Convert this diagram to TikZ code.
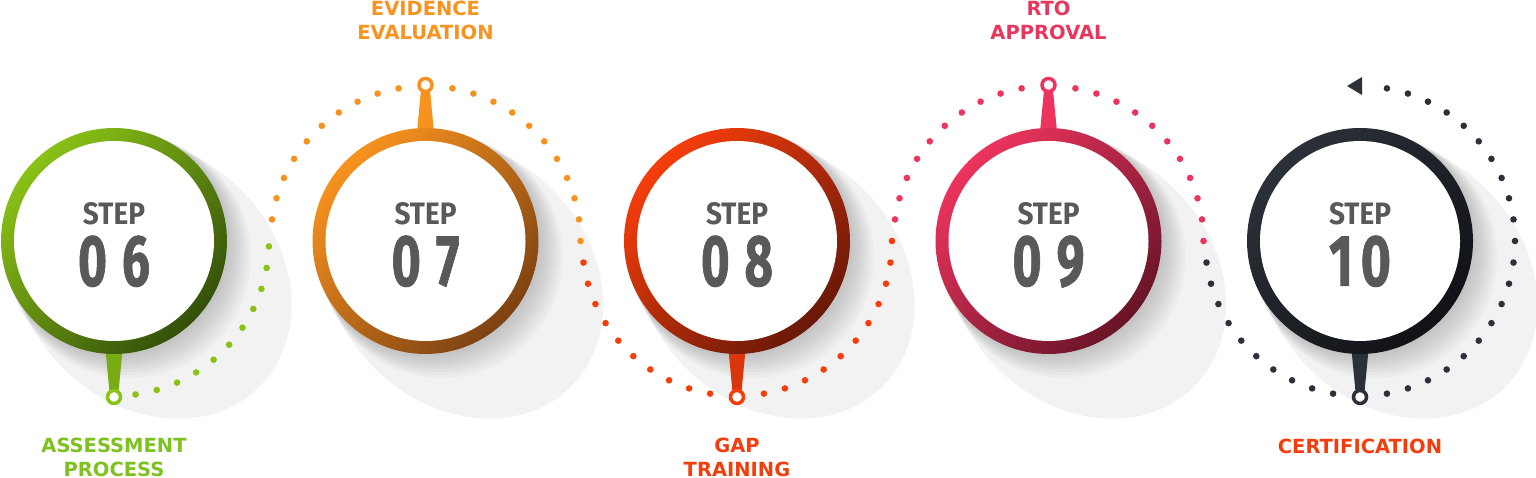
\documentclass[tikz,border=0pt]{standalone}
\usepackage{fontspec}
\usepackage{graphicx}
\setmainfont{DejaVu Sans}
\newfontfamily\stepfont{Fira Sans}
\newfontfamily\numfont[FakeBold=1.2]{Fira Sans}
\usetikzlibrary{positioning}

% ring and label colours
\definecolor{greenlt}{RGB}{138,194,22}
\definecolor{greendk}{RGB}{52,80,10}
\definecolor{greenlbl}{RGB}{125,194,30}
\definecolor{orangelt}{RGB}{248,146,30}
\definecolor{orangedk}{RGB}{125,66,18}
\definecolor{orangelbl}{RGB}{247,147,30}
\definecolor{redlt}{RGB}{246,62,12}
\definecolor{reddk}{RGB}{105,24,8}
\definecolor{redlbl}{RGB}{242,61,13}
\definecolor{pinklt}{RGB}{236,52,94}
\definecolor{pinkdk}{RGB}{105,20,40}
\definecolor{pinklbl}{RGB}{232,54,93}
\definecolor{darklt}{RGB}{44,48,56}
\definecolor{darkdk}{RGB}{16,18,22}
\definecolor{stepgray}{RGB}{88,89,91}
\definecolor{shadowgray}{RGB}{242,242,242}

\begin{document}
\begin{tikzpicture}[
    x=1pt, y=1pt,
    steptitle/.style={
        inner sep=0pt,
        text=stepgray,
        font=\stepfont\bfseries
    },
    stepnum/.style={
        inner sep=0pt,
        text=stepgray,
        font=\numfont\bfseries
    },
    caption/.style={
        font=\bfseries\fontsize{19.5}{24}\selectfont,
        align=center,
        inner sep=0pt
    },
    hole/.style={
        circle,
        fill=white,
        line width=3.5pt,
        minimum size=13pt,
        inner sep=0pt
    }
]
\useasboundingbox (0,0) rectangle (1536,478);

\def\rout{113}
\def\rin{100}
\def\rdots{155}

% Circle centres and pin ends
\coordinate (c06) at (114,237);
\coordinate (c07) at (425.5,237);
\coordinate (c08) at (737,237);
\coordinate (c09) at (1048.5,237);
\coordinate (c10) at (1360,237);
\coordinate (p06) at ([yshift=-156]c06);
\coordinate (p07) at ([yshift=156]c07);
\coordinate (p08) at ([yshift=-156]c08);
\coordinate (p09) at ([yshift=156]c09);
\coordinate (p10) at ([yshift=-156]c10);

% ============ SHADOWS ============
\foreach \c in {c06,c07,c08,c09,c10} {
    \coordinate (s) at ([shift={(38,-38)}]\c);
    \fill[shadowgray, rotate around={-45:(s)}] (s) ellipse (152 and 126);
    \foreach \k in {1,...,8}
        \fill[black, opacity=0.022] ([shift={(2*\k,-2*\k)}]\c) circle (\rout+\k);
}

% ============ DOTTED TRAIL ============
\foreach \a in {278,286,...,358}
    \fill[greenlt] ([shift={(\a:\rdots)}]c06) circle (3.3);
\foreach \a in {0,8,...,80,100,108,...,172}
    \fill[orangelt] ([shift={(\a:\rdots)}]c07) circle (3.3);
\foreach \a in {188,196,...,260,280,288,...,360}
    \fill[redlt] ([shift={(\a:\rdots)}]c08) circle (3.3);
\foreach \a in {0,8,...,80,100,108,...,172}
    \fill[pinklt] ([shift={(\a:\rdots)}]c09) circle (3.3);
\foreach \a in {188,196,...,260,280,288,...,440}
    \fill[darklt] ([shift={(\a:\rdots)}]c10) circle (3.3);

% arrow head at the end of the trail
\fill[darklt] ([shift={(-13,155)}]c10) -- ++(15,9) -- ++(0,-18) -- cycle;

% ============ PINS ============
\fill[greenlt!80!greendk] ([shift={(-8.5,-\rout+4)}]c06) -- ([shift={(8.5,-\rout+4)}]c06)
    -- ([xshift=4]p06) -- ([xshift=-4]p06) -- cycle;
\fill[orangelt] ([shift={(-8.5,\rout-4)}]c07) -- ([shift={(8.5,\rout-4)}]c07)
    -- ([xshift=4]p07) -- ([xshift=-4]p07) -- cycle;
\fill[redlt!80!reddk] ([shift={(-8.5,-\rout+4)}]c08) -- ([shift={(8.5,-\rout+4)}]c08)
    -- ([xshift=4]p08) -- ([xshift=-4]p08) -- cycle;
\fill[pinklt] ([shift={(-8.5,\rout-4)}]c09) -- ([shift={(8.5,\rout-4)}]c09)
    -- ([xshift=4]p09) -- ([xshift=-4]p09) -- cycle;
\fill[darklt] ([shift={(-8.5,-\rout+4)}]c10) -- ([shift={(8.5,-\rout+4)}]c10)
    -- ([xshift=4]p10) -- ([xshift=-4]p10) -- cycle;

% ============ RINGS ============
\shade[top color=greenlt, bottom color=greendk, shading angle=45] (c06) circle (\rout);
\shade[top color=orangelt, bottom color=orangedk, shading angle=45] (c07) circle (\rout);
\shade[top color=redlt, bottom color=reddk, shading angle=45] (c08) circle (\rout);
\shade[top color=pinklt, bottom color=pinkdk, shading angle=45] (c09) circle (\rout);
\shade[top color=darklt, bottom color=darkdk, shading angle=45] (c10) circle (\rout);
\foreach \c in {c06,c07,c08,c09,c10}
    \fill[white] (\c) circle (\rin);

% Pin holes
\node[hole, draw=greenlt] (h06) at (p06) {};
\node[hole, draw=orangelt] (h07) at (p07) {};
\node[hole, draw=redlt] (h08) at (p08) {};
\node[hole, draw=pinklt] (h09) at (p09) {};
\node[hole, draw=darklt] (h10) at (p10) {};

% ============ STEP TEXT ============
\node[steptitle] (t06) at ([yshift=27]c06) {\resizebox{62pt}{22pt}{STEP}};
\node[stepnum, below=10pt of t06] (n06) {\resizebox{72pt}{50pt}{0\kern.3em6}};
\node[steptitle] (t07) at ([yshift=27]c07) {\resizebox{62pt}{22pt}{STEP}};
\node[stepnum, below=10pt of t07] (n07) {\resizebox{68pt}{50pt}{0\kern.3em7}};
\node[steptitle] (t08) at ([yshift=27]c08) {\resizebox{62pt}{22pt}{STEP}};
\node[stepnum, below=10pt of t08] (n08) {\resizebox{72pt}{50pt}{0\kern.3em8}};
\node[steptitle] (t09) at ([yshift=27]c09) {\resizebox{62pt}{22pt}{STEP}};
\node[stepnum, below=10pt of t09] (n09) {\resizebox{72pt}{50pt}{0\kern.3em9}};
\node[steptitle] (t10) at ([yshift=27]c10) {\resizebox{62pt}{22pt}{STEP}};
\node[stepnum, below=10pt of t10] (n10) {\resizebox{62pt}{50pt}{1\kern.15em0}};

% ============ CAPTIONS ============
\node[caption, text=greenlbl] (l06) at ([yshift=-216]c06) {ASSESSMENT\\PROCESS};
\node[caption, text=orangelbl] (l07) at ([yshift=221]c07) {EVIDENCE\\EVALUATION};
\node[caption, text=redlbl] (l08) at ([yshift=-216]c08) {GAP\\TRAINING};
\node[caption, text=pinklbl] (l09) at ([yshift=221]c09) {RTO\\APPROVAL};
\node[caption, text=redlbl] (l10) at ([yshift=-205]c10) {CERTIFICATION};

\end{tikzpicture}
\end{document}
